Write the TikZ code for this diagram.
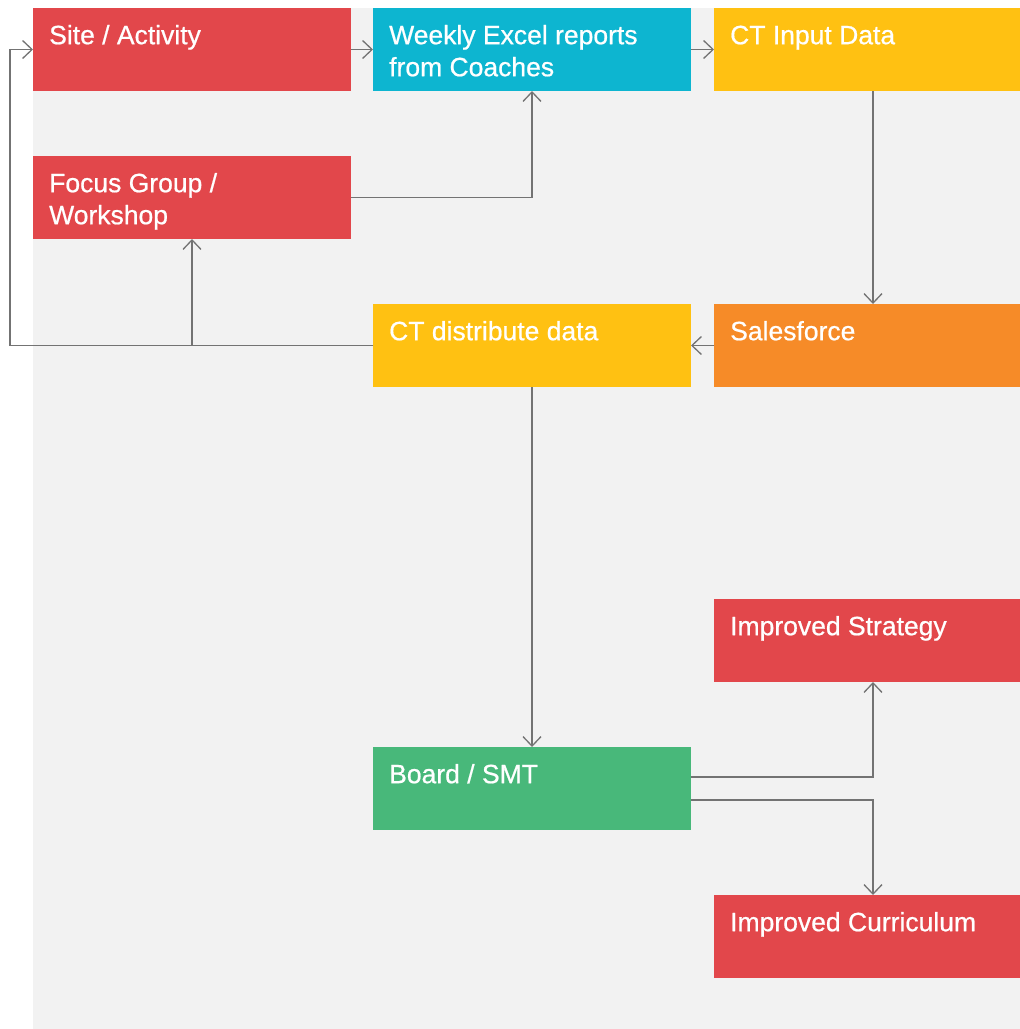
\documentclass[tikz,border=0pt]{standalone}
\usepackage{fontspec}
\setmainfont{Liberation Sans}
\newfontfamily\lblfont{Liberation Sans}[FakeBold=0.7]
\usetikzlibrary{arrows.meta}
\definecolor{cred}{HTML}{E2474B}
\definecolor{cteal}{HTML}{0DB5D0}
\definecolor{cyellow}{HTML}{FFC112}
\definecolor{corange}{HTML}{F68B28}
\definecolor{cgreen}{HTML}{48B87A}
\definecolor{panel}{HTML}{F2F2F2}
\definecolor{linegray}{HTML}{737373}
\newcommand\fstrut{\rule{0pt}{25pt}}
\begin{document}
\begin{tikzpicture}[x=1pt,y=-1pt,
  box/.style={fill=#1, draw=none, minimum width=318pt, minimum height=83pt, anchor=north west, inner sep=0pt, outer sep=0pt},
  lbl/.style={anchor=north west, inner sep=0pt, align=left, text=white, font=\lblfont\fontsize{26.5}{32}\selectfont},
  conn/.style={draw=linegray, line width=1.3pt, -{Straight Barb[length=9.5pt,width=18pt,line width=1.3pt]}}]
\useasboundingbox (0,0) rectangle (1020,1029);
\fill[white] (0,0) rectangle (1020,1029);
\fill[panel] (33,8) rectangle (1020,1029);
% boxes
\node[box=cred]    (site)  at (33,8)    {};
\node[box=cteal]   (weekly) at (373,8)  {};
\node[box=cyellow] (ctin)  at (714,8)   {};
\node[box=cred]    (focus) at (33,156)  {};
\node[box=cyellow] (ctd)   at (373,304) {};
\node[box=corange] (sales) at (714,304) {};
\node[box=cred]    (strat) at (714,599) {};
\node[box=cgreen]  (board) at (373,747) {};
\node[box=cred]    (curr)  at (714,895) {};
% labels
\node[lbl] (siteT)   at ([xshift=16pt,yshift=-11pt]site.north west)   {\fstrut Site / Activity};
\node[lbl] (weeklyT) at ([xshift=16pt,yshift=-11pt]weekly.north west) {\fstrut Weekly Excel reports\\from Coaches};
\node[lbl] (ctinT)   at ([xshift=16pt,yshift=-11pt]ctin.north west)   {\fstrut CT Input Data};
\node[lbl] (focusT)  at ([xshift=16pt,yshift=-11pt]focus.north west)  {\fstrut Focus Group /\\Workshop};
\node[lbl] (ctdT)    at ([xshift=16pt,yshift=-11pt]ctd.north west)    {\fstrut CT distribute data};
\node[lbl] (salesT)  at ([xshift=16pt,yshift=-11pt]sales.north west)  {\fstrut Salesforce};
\node[lbl] (stratT)  at ([xshift=16pt,yshift=-11pt]strat.north west)  {\fstrut Improved Strategy};
\node[lbl] (boardT)  at ([xshift=16pt,yshift=-11pt]board.north west)  {\fstrut Board / SMT};
\node[lbl] (currT)   at ([xshift=16pt,yshift=-11pt]curr.north west)   {\fstrut Improved Curriculum};
% connectors
\coordinate (loop) at (10,346);
\draw[conn] (site.east) -- (weekly.west);
\draw[conn] (weekly.east) -- (ctin.west);
\draw[conn] (ctin.south) -- (sales.north);
\draw[conn] (sales.west) -- (ctd.east);
\draw[conn] (ctd.west) -| (focus.south);
\draw[conn] (ctd.west) -- (ctd.west -| loop) |- (site.west);
\draw[conn] (focus.east) -| (weekly.south);
\draw[conn] (ctd.south) -- (board.north);
\draw[conn] ([yshift=11.5pt]board.east) -| (strat.south);
\draw[conn] ([yshift=-11.5pt]board.east) -| (curr.north);
\end{tikzpicture}
\end{document}
